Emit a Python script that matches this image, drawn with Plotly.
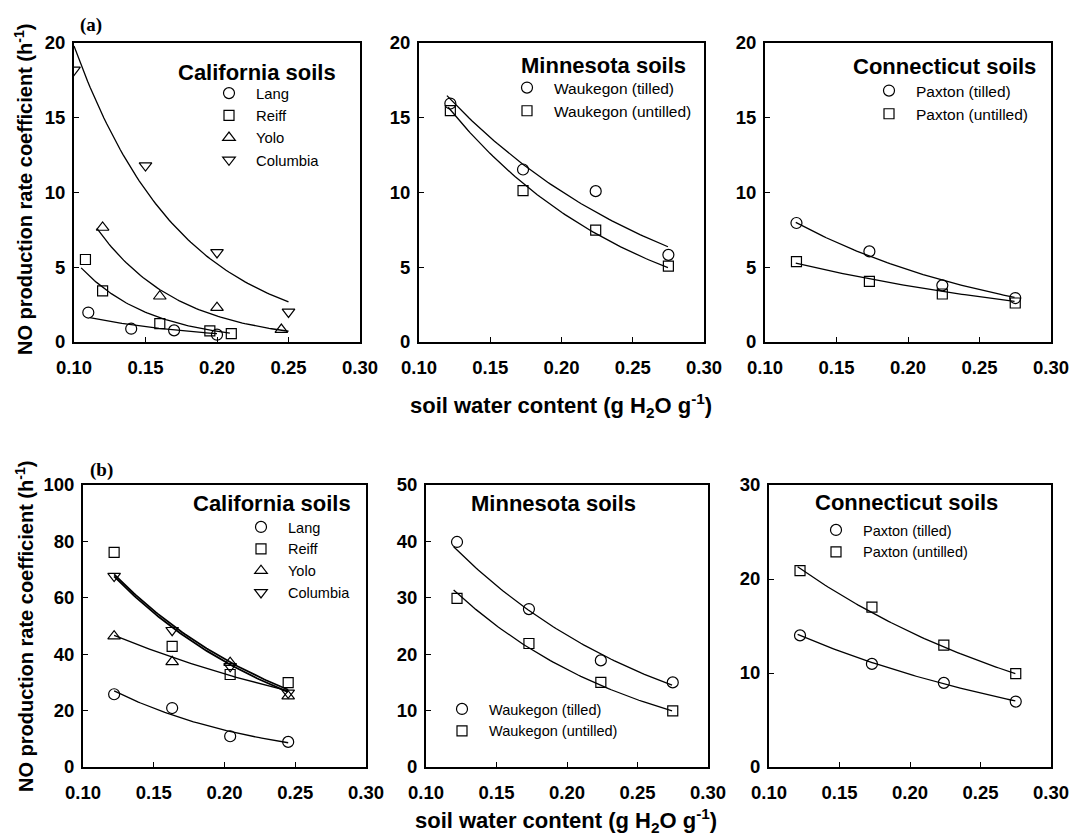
import numpy as np
import plotly.graph_objects as go

W, H = 1069, 838

# ---------------- data ----------------
# (a) California soils
ca_a_lang_x = [0.110, 0.140, 0.170, 0.200]
ca_a_lang_y = [1.97, 0.89, 0.78, 0.49]
ca_a_reiff_x = [0.108, 0.120, 0.160, 0.195, 0.210]
ca_a_reiff_y = [5.52, 3.42, 1.23, 0.74, 0.56]
ca_a_yolo_x = [0.120, 0.160, 0.200, 0.245]
ca_a_yolo_y = [7.66, 3.06, 2.30, 0.83]
ca_a_col_x = [0.100, 0.150, 0.200, 0.250]
ca_a_col_y = [18.2, 11.8, 5.99, 2.01]
# exponential fit lines: (x start, y start, x end, y end)
ca_a_lang_fit = [0.111, 1.63, 0.200, 0.56]
ca_a_reiff_fit = [0.105, 4.96, 0.209, 0.60]
ca_a_yolo_fit = [0.116, 7.60, 0.250, 0.72]
ca_a_col_fit = [0.100, 19.8, 0.250, 2.68]

# (a) Minnesota soils
mn_x = [0.122, 0.173, 0.224, 0.275]
mn_a_till_y = [15.95, 11.54, 10.09, 5.83]
mn_a_untill_y = [15.48, 10.13, 7.48, 5.08]
mn_a_till_fit = [0.1196, 16.48, 0.2747, 6.37]
mn_a_untill_fit = [0.1205, 15.70, 0.2747, 4.97]

# (a) Connecticut soils
ct_x = [0.122, 0.173, 0.224, 0.275]
ct_a_till_y = [7.96, 6.06, 3.79, 2.94]
ct_a_untill_y = [5.37, 4.06, 3.21, 2.61]
ct_a_till_fit = [0.1215, 8.00, 0.2745, 2.99]
ct_a_untill_fit = [0.1215, 5.28, 0.2745, 2.72]

# (b) California soils
ca_b_x = [0.122, 0.163, 0.204, 0.245]
ca_b_lang_y = [25.8, 20.9, 10.9, 8.9]
ca_b_reiff_y = [76.1, 42.8, 32.8, 29.9]
ca_b_yolo_y = [46.4, 37.3, 37.0, 25.1]
ca_b_col_y = [67.7, 48.5, 35.7, 26.3]
ca_b_lang_fit = [0.122, 27.0, 0.245, 8.6]
ca_b_reiff_fit = [0.122, 68.3, 0.245, 27.4]
ca_b_yolo_fit = [0.122, 46.7, 0.245, 27.0]
ca_b_col_fit = [0.122, 67.6, 0.245, 26.6]

# (b) Minnesota soils
mn_b_till_y = [39.9, 28.0, 18.9, 15.0]
mn_b_untill_y = [29.9, 21.9, 15.0, 9.94]
mn_b_till_fit = [0.1196, 39.05, 0.2745, 14.5]
mn_b_untill_fit = [0.1196, 31.4, 0.2745, 9.94]

# (b) Connecticut soils
ct_b_till_y = [14.0, 10.97, 8.95, 6.96]
ct_b_untill_y = [20.9, 17.0, 12.96, 9.94]
ct_b_till_fit = [0.1203, 14.1, 0.2747, 7.03]
ct_b_untill_fit = [0.1203, 21.3, 0.2747, 9.94]

x_ticks = [0.10, 0.15, 0.20, 0.25, 0.30]
y_ticks_a = [0, 5, 10, 15, 20]
y_ticks_b_ca = [0, 20, 40, 60, 80, 100]
y_ticks_b_mn = [0, 10, 20, 30, 40, 50]
y_ticks_b_ct = [0, 10, 20, 30]

# ---------------- helpers ----------------
def px(xp):
    return xp / W

def py(yp):
    return 1 - yp / H

def fit_curve(f, n=80):
    x0, y0, x1, y1 = f
    xs = np.linspace(x0, x1, n)
    ys = y0 * (y1 / y0) ** ((xs - x0) / (x1 - x0))
    return xs, ys

SANS = "Liberation Sans"
fig = go.Figure()

# panel layout: (x domain px, y domain px, yticks)
panels = [
    ((74, 360), (43, 342), y_ticks_a),
    ((419, 704), (43, 342), y_ticks_a),
    ((765, 1051), (43, 342), y_ticks_a),
    ((83, 366), (485, 767), y_ticks_b_ca),
    ((426, 708), (485, 767), y_ticks_b_mn),
    ((769, 1051), (485, 767), y_ticks_b_ct),
]

SYM = {"circle": "circle-open", "square": "square-open",
       "up": "triangle-up-open", "down": "triangle-down-open"}
MSIZE = {"circle": 11, "square": 10, "up": 11, "down": 11}

def add_series(i, name, xs, ys, sym, fit, legend, lw=1.3):
    ax = "" if i == 1 else str(i)
    fx, fy = fit_curve(fit)
    fig.add_trace(go.Scatter(x=fx, y=fy, mode="lines", line=dict(color="black", width=lw),
                             xaxis="x" + ax, yaxis="y" + ax, showlegend=False, hoverinfo="skip"))
    fig.add_trace(go.Scatter(x=xs, y=ys, mode="markers", name=name,
                             marker=dict(symbol=SYM[sym], size=MSIZE[sym], color="black",
                                         line=dict(color="black", width=1.2)),
                             xaxis="x" + ax, yaxis="y" + ax, legend=legend))

# panel 1
add_series(1, "Lang", ca_a_lang_x, ca_a_lang_y, "circle", ca_a_lang_fit, "legend")
add_series(1, "Reiff", ca_a_reiff_x, ca_a_reiff_y, "square", ca_a_reiff_fit, "legend")
add_series(1, "Yolo", ca_a_yolo_x, ca_a_yolo_y, "up", ca_a_yolo_fit, "legend")
add_series(1, "Columbia", ca_a_col_x, ca_a_col_y, "down", ca_a_col_fit, "legend")
# panel 2
add_series(2, "Waukegon (tilled)", mn_x, mn_a_till_y, "circle", mn_a_till_fit, "legend2")
add_series(2, "Waukegon (untilled)", mn_x, mn_a_untill_y, "square", mn_a_untill_fit, "legend2")
# panel 3
add_series(3, "Paxton (tilled)", ct_x, ct_a_till_y, "circle", ct_a_till_fit, "legend3")
add_series(3, "Paxton (untilled)", ct_x, ct_a_untill_y, "square", ct_a_untill_fit, "legend3")
# panel 4
add_series(4, "Lang", ca_b_x, ca_b_lang_y, "circle", ca_b_lang_fit, "legend4")
add_series(4, "Reiff", ca_b_x, ca_b_reiff_y, "square", ca_b_reiff_fit, "legend4", lw=1.8)
add_series(4, "Yolo", ca_b_x, ca_b_yolo_y, "up", ca_b_yolo_fit, "legend4")
add_series(4, "Columbia", ca_b_x, ca_b_col_y, "down", ca_b_col_fit, "legend4", lw=1.8)
# panel 5
add_series(5, "Waukegon (tilled)", mn_x, mn_b_till_y, "circle", mn_b_till_fit, "legend5")
add_series(5, "Waukegon (untilled)", mn_x, mn_b_untill_y, "square", mn_b_untill_fit, "legend5")
# panel 6
add_series(6, "Paxton (tilled)", ct_x, ct_b_till_y, "circle", ct_b_till_fit, "legend6")
add_series(6, "Paxton (untilled)", ct_x, ct_b_untill_y, "square", ct_b_untill_fit, "legend6")

tickfont = dict(family=SANS, size=18.5, color="black", weight="bold")
layout = dict(width=W, height=H, margin=dict(l=0, r=0, t=0, b=0, autoexpand=False),
              paper_bgcolor="white", plot_bgcolor="white", showlegend=True)

for i, ((xl, xr), (yt, yb), yt_vals) in enumerate(panels, start=1):
    ax = "" if i == 1 else str(i)
    layout["xaxis" + ax] = dict(domain=[px(xl), px(xr)], range=[0.10, 0.30],
                                tickvals=x_ticks, ticktext=[f"{v:.2f}" for v in x_ticks],
                                ticks="inside", ticklen=5, tickwidth=1.2, tickcolor="black",
                                showline=True, linecolor="black", linewidth=2, mirror=True,
                                showgrid=False, zeroline=False, tickfont=tickfont,
                                ticklabelstandoff=8, automargin=False,
                                ticklabeloverflow="allow", anchor="y" + ax)
    layout["yaxis" + ax] = dict(domain=[py(yb), py(yt)], range=[yt_vals[0], yt_vals[-1]],
                                tickvals=yt_vals, ticks="inside", ticklen=5, tickwidth=1.2,
                                tickcolor="black", showline=True, linecolor="black", linewidth=2,
                                mirror=True, showgrid=False, zeroline=False, tickfont=tickfont,
                                ticklabelstandoff=3, automargin=False,
                                ticklabeloverflow="allow", anchor="x" + ax)

def leg(mx, my, size=15):
    # mx, my: centre of the first legend symbol in pixels
    return dict(x=px(mx - 26), y=py(my - 17), xanchor="left", yanchor="top",
                xref="paper", yref="paper",
                bgcolor="rgba(0,0,0,0)", borderwidth=0, itemwidth=44,
                font=dict(family=SANS, size=size, color="black"), tracegroupgap=0)

layout["legend"] = leg(228, 94, 14.8)
layout["legend2"] = leg(526, 88, 15.5)
layout["legend3"] = leg(888, 91, 15.5)
layout["legend4"] = leg(260, 528, 14.5)
layout["legend5"] = leg(461, 710, 14.5)
layout["legend6"] = leg(835, 531, 14.5)

fig.update_layout(**layout)

titlefont = dict(family=SANS, size=22, color="black")
def ann(text, xpx, ypx, xanchor="center", font=titlefont, angle=0):
    fig.add_annotation(text=text, x=px(xpx), y=py(ypx), xref="paper", yref="paper",
                       xanchor=xanchor, yanchor="middle", showarrow=False, font=font,
                       textangle=angle)

ann("<b>California soils</b>", 338, 72, "right")
ann("<b>Minnesota soils</b>", 688, 65, "right")
ann("<b>Connecticut soils</b>", 1038, 67, "right")
ann("<b>California soils</b>", 353, 503, "right")
ann("<b>Minnesota soils</b>", 553, 503, "center")
ann("<b>Connecticut soils</b>", 906, 502, "center")

xfont = dict(family=SANS, size=22, color="black")
xt = "<b>soil water content (g H<sub>2</sub>O g<sup>-1</sup>)</b>"
ann(xt, 561, 405, font=xfont)
ann(xt, 566, 820, font=xfont)
yfont = dict(family=SANS, size=20, color="black")
yt = "<b>NO production rate coefficient (h<sup>-1</sup>)</b>"
ann(yt, 24, 190, font=yfont, angle=-90)
ann(yt, 24, 627, font=yfont, angle=-90)

serif = dict(family="Liberation Serif", size=19, color="black")
ann("<b>(a)</b>", 78, 25, "left", font=serif)
ann("<b>(b)</b>", 88, 470, "left", font=serif)

fig.write_html("out.html")
